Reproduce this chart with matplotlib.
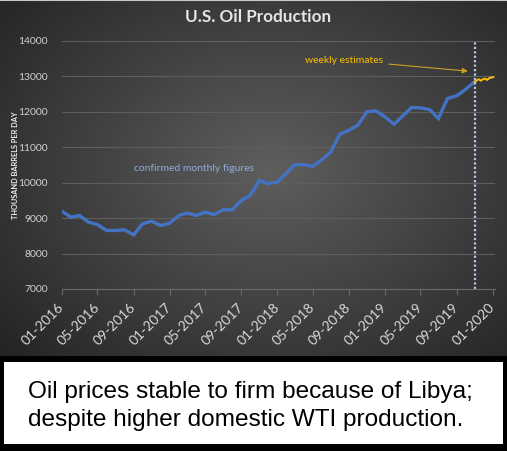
import numpy as np
import pandas as pd
import matplotlib
matplotlib.use("Agg")
import matplotlib.pyplot as plt
import matplotlib.dates as mdates
from matplotlib.patches import Rectangle

# monthly production, thousand barrels per day, 01-2016 .. 11-2019
monthly = [9198, 9028, 9075, 8887, 8821, 8651, 8651, 8670, 8528, 8840, 8915, 8792,
           8858, 9075, 9142, 9075, 9170, 9104, 9236, 9236, 9500, 9642, 10066, 9972,
           10019, 10274, 10509, 10509, 10462, 10651, 10868, 11368, 11481, 11623, 12000, 12028,
           11858, 11651, 11877, 12123, 12113, 12066, 11811, 12377, 12453, 12632, 12849]
month_dates = pd.date_range("2016-01-01", periods=len(monthly), freq="MS")

# weekly estimates from 11-2019
weekly = [12840, 12890, 12920, 12880, 12920, 12940, 12900, 12950, 12970, 12980]
week_dates = pd.date_range("2019-11-01", periods=len(weekly), freq="7D")

tick_dates = pd.date_range("2016-01-01", "2020-01-01", freq="4MS")
split_date = pd.Timestamp("2019-11-01")

W, H = 507, 451
fig = plt.figure(figsize=(W / 100, H / 100), dpi=100, facecolor="black")

# dark radial gradient panel
bg = fig.add_axes([0, (H - 356) / H, 1, 356 / H])
bg.axis("off")
yy, xx = np.mgrid[0:356, 0:507]
r = np.sqrt(((xx - 270) / 300.0) ** 2 + ((yy - 170) / 230.0) ** 2)
r = np.clip(r / r.max(), 0, 1)
shade = 0.37 - 0.23 * r
bg.imshow(np.dstack([shade, shade, shade]), aspect="auto", extent=[0, 1, 0, 1])
bg.set_xlim(0, 1)
bg.set_ylim(0, 1)
bg.axhline(1, color="#c8c8c8", lw=1.5)

# white caption box
fig.patches.append(Rectangle((4 / W, (H - 444) / H), 499 / W, 82 / H,
                             transform=fig.transFigure, facecolor="white", edgecolor="none"))

ax = fig.add_axes([61.7 / W, (H - 289) / H, 433.3 / W, 248 / H])
ax.patch.set_alpha(0)
ax.plot(month_dates, monthly, color="#4472c4", lw=2.4, solid_joinstyle="miter")
ax.plot(week_dates, weekly, color="#ffc000", lw=1.4)
ax.axvline(split_date, color="#b4c7e7", lw=1.6, ls=(0, (1, 1)))

ax.set_xlim(pd.Timestamp("2016-01-01"), pd.Timestamp("2020-01-09"))
ax.set_ylim(7000, 14000)
ax.set_yticks(range(7000, 14001, 1000))
ax.set_xticks(tick_dates)
ax.xaxis.set_major_formatter(mdates.DateFormatter("%m-%Y"))
ax.grid(axis="y", color="#5e5e5e", lw=0.8)
ax.set_axisbelow(True)
for s in ["top", "right", "left"]:
    ax.spines[s].set_visible(False)
ax.spines["bottom"].set_color("#6a6a6a")
ax.tick_params(axis="y", length=0, pad=10, labelsize=7.5, labelcolor="#d0d0d0")
ax.tick_params(axis="x", length=4, color="#6a6a6a", pad=8, labelsize=10, labelcolor="#d9d9d9")
for lab in ax.get_xticklabels():
    lab.set_rotation(45)
    lab.set_ha("right")
    lab.set_rotation_mode("anchor")
    lab.set_va("center")
    lab.set_family("Lato")
for lab in ax.get_yticklabels():
    lab.set_family("Lato")

ax.text(pd.Timestamp("2017-03-24"), 10400, "confirmed monthly figures", color="#8faadc",
        fontsize=7.5, family="Lato", ha="center", va="center")
ax.annotate("weekly estimates", xy=(pd.Timestamp("2019-10-09"), 13150),
            xytext=(pd.Timestamp("2018-04-05"), 13460), color="#ffc000",
            fontsize=7.5, family="Lato", ha="left", va="center",
            arrowprops=dict(arrowstyle="-|>", color="#c9a227", lw=0.8, mutation_scale=8,
                            shrinkA=2, shrinkB=0))

fig.text(258.5 / W, 1 - 17 / H, "U.S. Oil Production", color="#e6e6e6", fontsize=12.3,
         fontweight="bold", family="Lato", ha="center", va="center")
fig.text(15.5 / W, 1 - 165 / H, "THOUSAND BARRELS PER DAY", color="#f0f0f0", fontsize=5.3,
         fontweight="bold", family="Lato", rotation=90, ha="center", va="center")

fig.text(28 / W, 1 - 392 / H, "Oil prices stable to firm because of Libya;", color="black",
         fontsize=17.6, family="Liberation Sans", ha="left", va="center")
fig.text(28 / W, 1 - 420 / H, "despite higher domestic WTI production.", color="black",
         fontsize=17.6, family="Liberation Sans", ha="left", va="center")

fig.savefig("out.png", dpi=100, facecolor="black")
